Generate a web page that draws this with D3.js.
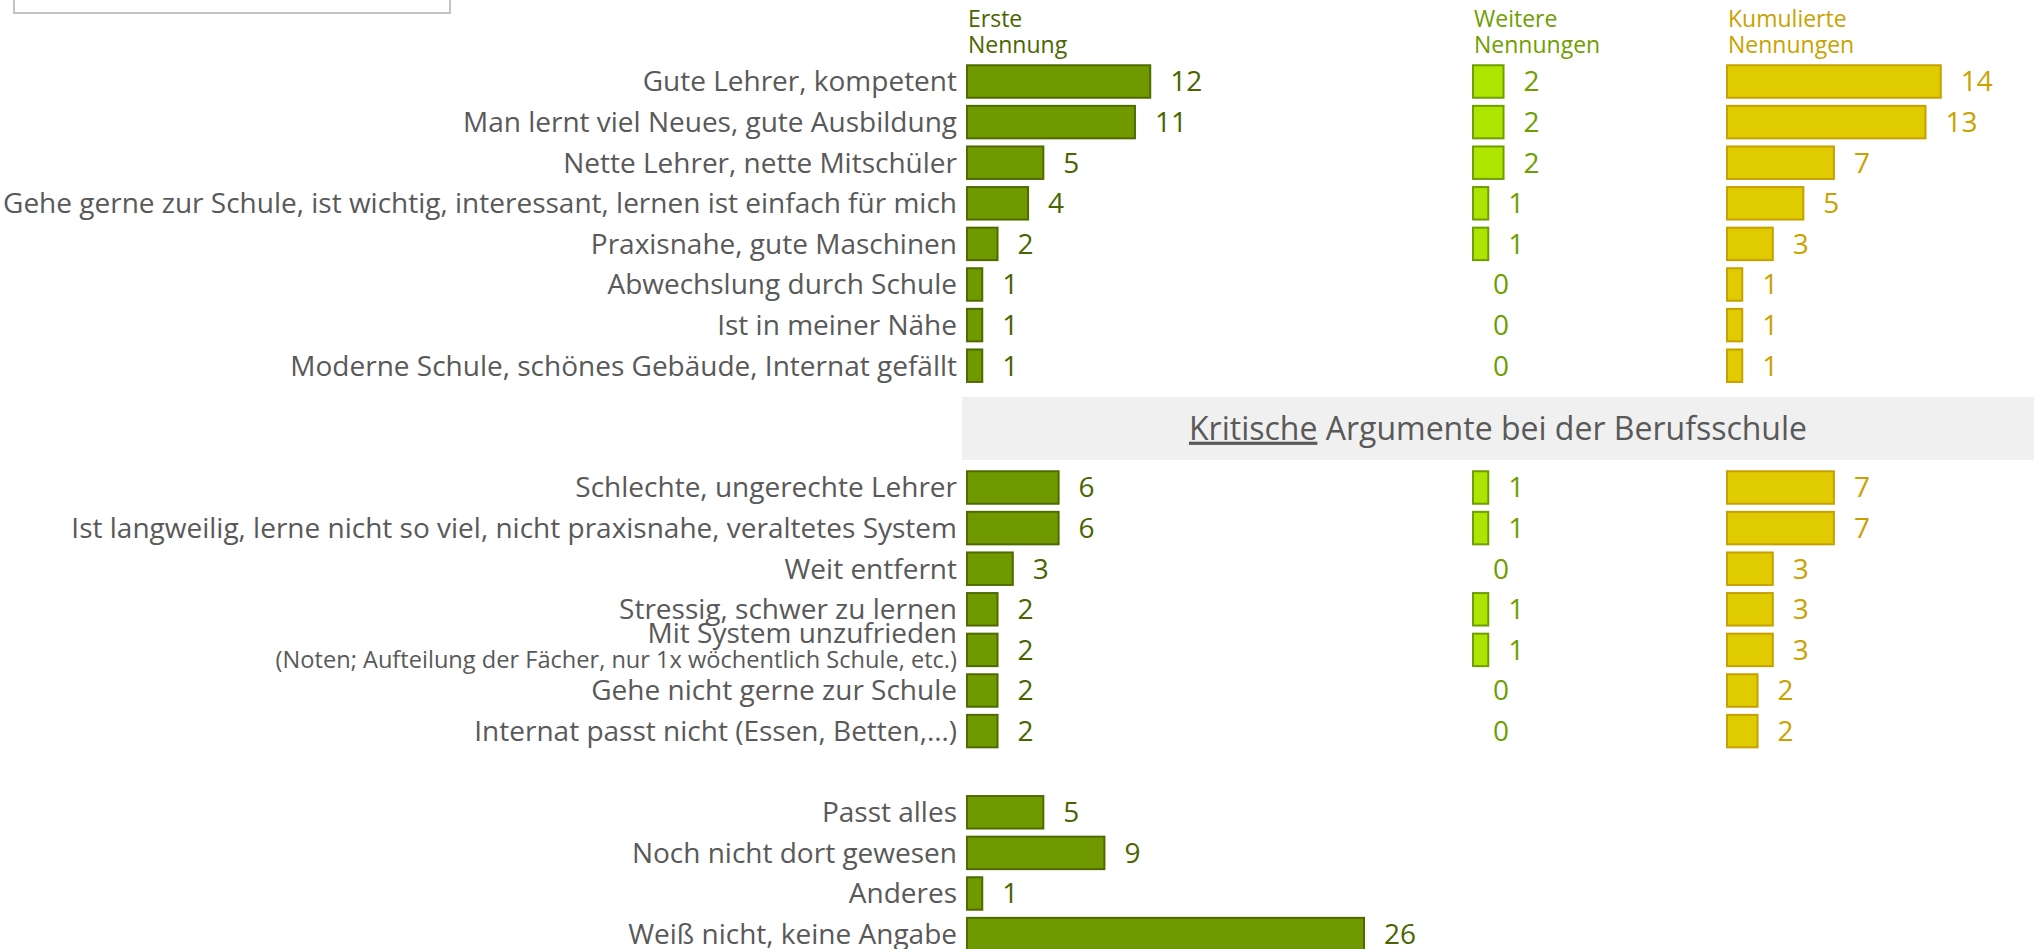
<!DOCTYPE html>
<html>
<head>
<meta charset="utf-8">
<script src="https://cdn.jsdelivr.net/npm/d3@7"></script>
<style>
  body { margin: 0; background: #fff; }
  svg text { font-family: "Open Sans", sans-serif; }
</style>
</head>
<body>
<div id="chart"></div>
<script>
// positive arguments
const categories1 = [
  "Gute Lehrer, kompetent",
  "Man lernt viel Neues, gute Ausbildung",
  "Nette Lehrer, nette Mitschüler",
  "Gehe gerne zur Schule, ist wichtig, interessant, lernen ist einfach für mich",
  "Praxisnahe, gute Maschinen",
  "Abwechslung durch Schule",
  "Ist in meiner Nähe",
  "Moderne Schule, schönes Gebäude, Internat gefällt"
];
const erste1 = [12, 11, 5, 4, 2, 1, 1, 1];
const weitere1 = [2, 2, 2, 1, 1, 0, 0, 0];
const kumuliert1 = [14, 13, 7, 5, 3, 1, 1, 1];

// critical arguments
const categories2 = [
  "Schlechte, ungerechte Lehrer",
  "Ist langweilig, lerne nicht so viel, nicht praxisnahe, veraltetes System",
  "Weit entfernt",
  "Stressig, schwer zu lernen",
  "Mit System unzufrieden|(Noten; Aufteilung der Fächer, nur 1x wöchentlich Schule, etc.)",
  "Gehe nicht gerne zur Schule",
  "Internat passt nicht (Essen, Betten,…)"
];
const erste2 = [6, 6, 3, 2, 2, 2, 2];
const weitere2 = [1, 1, 0, 1, 1, 0, 0];
const kumuliert2 = [7, 7, 3, 3, 3, 2, 2];

// rest
const categories3 = ["Passt alles", "Noch nicht dort gewesen", "Anderes", "Weiß nicht, keine Angabe"];
const erste3 = [5, 9, 1, 26];

const headers = [["Erste", "Nennung"], ["Weitere", "Nennungen"], ["Kumulierte", "Nennungen"]];
const sectionTitle = ["Kritische", " Argumente bei der Berufsschule"];

const width = 2034, height = 949;
const colX = [967, 1473, 1727];
const fills = ["#709900", "#ade400", "#e0cb00"];
const strokes = ["#4f6b00", "#6e9e00", "#c4a100"];
const textCol = ["#4a6500", "#6e9e00", "#c9a200"];
const labelColor = "#595959";

const svg = d3.select("#chart").append("svg")
  .attr("width", width)
  .attr("height", height);

// rows: section 1 from 0, section 2 from 10, section 3 from 18
const rows = [];
categories1.forEach((c, i) => rows.push({idx: i, cat: c, vals: [erste1[i], weitere1[i], kumuliert1[i]]}));
categories2.forEach((c, i) => rows.push({idx: 10 + i, cat: c, vals: [erste2[i], weitere2[i], kumuliert2[i]]}));
categories3.forEach((c, i) => rows.push({idx: 18 + i, cat: c, vals: [erste3[i]]}));

const y = d3.scaleBand()
  .domain(d3.range(22))
  .range([61.2, 61.2 + 22 * 40.6])
  .paddingInner(0.2)
  .paddingOuter(0.1);

const x = d3.scaleLinear()
  .domain([0, 26])
  .range([0, 397]);

// box at top left
svg.append("rect")
  .attr("x", 14).attr("y", -10)
  .attr("width", 436).attr("height", 23)
  .attr("fill", "#fff")
  .attr("stroke", "#c4c4c4")
  .attr("stroke-width", 2);

// headers
headers.forEach((h, k) => {
  const t = svg.append("text")
    .attr("x", colX[k] + 1)
    .attr("y", 27)
    .attr("fill", textCol[k])
    .style("font-size", "23px");
  t.append("tspan").attr("x", colX[k] + 1).text(h[0]);
  t.append("tspan").attr("x", colX[k] + 1).attr("dy", 26).text(h[1]);
});

// section band
const bandTop = 397, bandBottom = 460;
svg.append("rect")
  .attr("x", 962).attr("y", bandTop)
  .attr("width", width - 962).attr("height", bandBottom - bandTop)
  .attr("fill", "#f0f0f0");
const st = svg.append("text")
  .attr("x", 1498)
  .attr("y", (bandTop + bandBottom) / 2)
  .attr("dy", "0.35em")
  .attr("text-anchor", "middle")
  .attr("fill", labelColor)
  .style("font-size", "32px");
st.append("tspan").attr("text-decoration", "underline").text(sectionTitle[0]);
st.append("tspan").text(sectionTitle[1]);

// category labels
rows.forEach(r => {
  const cy = y(r.idx) + y.bandwidth() / 2;
  const parts = r.cat.split("|");
  if (parts.length === 1) {
    svg.append("text")
      .attr("x", 957).attr("y", cy).attr("dy", "0.35em")
      .attr("text-anchor", "end")
      .attr("fill", labelColor)
      .style("font-size", "28px")
      .text(parts[0]);
  } else {
    svg.append("text")
      .attr("x", 957).attr("y", cy - 17).attr("dy", "0.35em")
      .attr("text-anchor", "end")
      .attr("fill", labelColor)
      .style("font-size", "28px")
      .text(parts[0]);
    svg.append("text")
      .attr("x", 957).attr("y", cy + 10).attr("dy", "0.35em")
      .attr("text-anchor", "end")
      .attr("fill", labelColor)
      .style("font-size", "23.6px")
      .text(parts[1]);
  }
});

// bars + value labels per column
[0, 1, 2].forEach(k => {
  const data = rows.filter(r => r.vals[k] !== undefined).map(r => ({idx: r.idx, v: r.vals[k]}));
  const g = svg.append("g").attr("transform", `translate(${colX[k]},0)`);
  g.selectAll("rect")
    .data(data.filter(d => d.v > 0))
    .join("rect")
    .attr("x", 0)
    .attr("y", d => y(d.idx))
    .attr("width", d => x(d.v))
    .attr("height", y.bandwidth())
    .attr("fill", fills[k])
    .attr("stroke", strokes[k])
    .attr("stroke-width", 2);
  g.selectAll("text")
    .data(data)
    .join("text")
    .attr("x", d => x(d.v) + 20)
    .attr("y", d => y(d.idx) + y.bandwidth() / 2)
    .attr("dy", "0.35em")
    .attr("fill", textCol[k])
    .style("font-size", "28px")
    .text(d => d.v);
});
</script>
</body>
</html>
